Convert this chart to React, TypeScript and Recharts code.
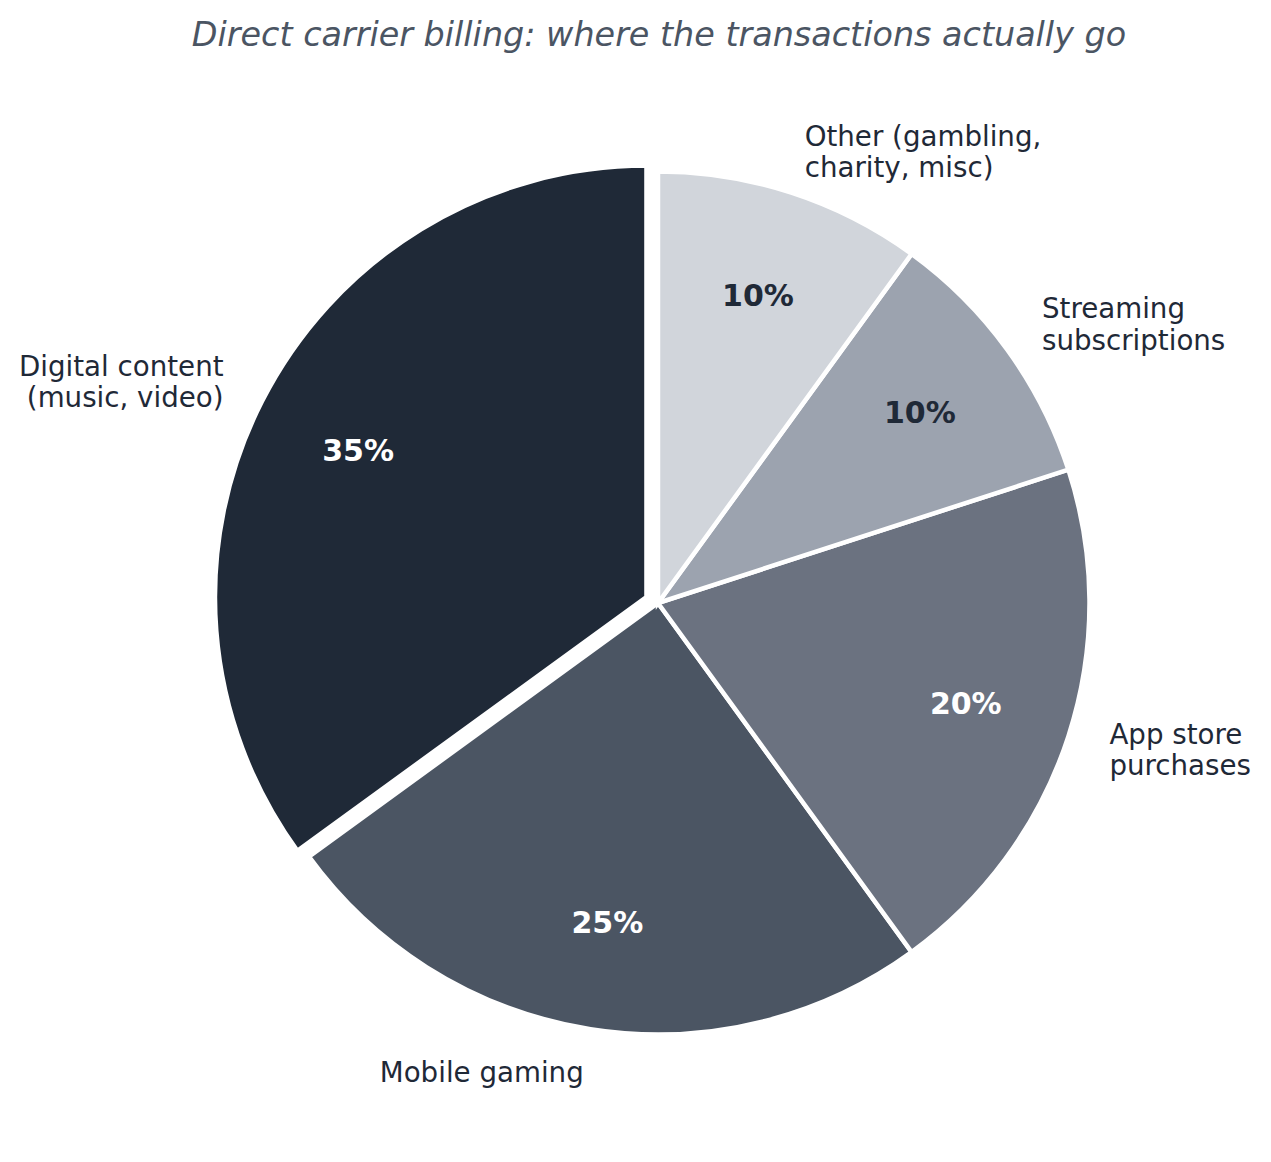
import React from 'react';
import { PieChart, Pie, Cell } from 'recharts';

const categories = [
    'Digital content\n(music, video)',
    'Mobile gaming',
    'App store\npurchases',
    'Streaming\nsubscriptions',
    'Other (gambling,\ncharity, misc)',
];
const shares = [35, 25, 20, 10, 10];
const explode = [0.03, 0, 0, 0, 0];
const sliceColors = ['#1f2937', '#4b5563', '#6b7280', '#9ca3af', '#d1d5db'];
const pctColors = ['#ffffff', '#ffffff', '#ffffff', '#1f2937', '#1f2937'];

const data = categories.map((name, i) => ({ name, value: shares[i] }));

const WIDTH = 1271;
const HEIGHT = 1162;
const CX = 658;
const CY = 603;
const R = 431.5;
const START = 90;
const RADIAN = Math.PI / 180;
const FONT = '"DejaVu Sans", sans-serif';
const total = shares.reduce((a, b) => a + b, 0);

// mid angle of a slice, counter-clockwise from 12 o'clock
const midAngleOf = (i: number) => {
    const before = shares.slice(0, i).reduce((a, b) => a + b, 0);
    return START + ((before + shares[i] / 2) / total) * 360;
};

const makeLabel = (show: (i: number) => boolean) => (props: any) => {
    const { cx, cy, midAngle, outerRadius, index } = props;
    if (!show(index)) return null;
    const cos = Math.cos(-midAngle * RADIAN);
    const sin = Math.sin(-midAngle * RADIAN);
    const px = cx + outerRadius * 0.75 * cos;
    const py = cy + outerRadius * 0.75 * sin;
    const lx = cx + outerRadius * 1.1 * cos;
    const ly = cy + outerRadius * 1.1 * sin;
    const lines = categories[index].split('\n');
    const lineH = 31.5;
    return (
        <g key={`lbl-${index}`}>
            <text
                x={px}
                y={py}
                textAnchor="middle"
                dominantBaseline="central"
                fill={pctColors[index]}
                fontFamily={FONT}
                fontWeight="bold"
                fontSize={30}
            >
                {`${shares[index]}%`}
            </text>
            <text
                x={lx}
                y={ly}
                textAnchor={lx > cx ? 'start' : 'end'}
                dominantBaseline="central"
                fill="#1f2937"
                fontFamily={FONT}
                fontSize={27.7}
            >
                {lines.map((ln, k) => (
                    <tspan key={k} x={lx} dy={k === 0 ? -((lines.length - 1) / 2) * lineH : lineH}>
                        {ln}
                    </tspan>
                ))}
            </text>
        </g>
    );
};

export default function App() {
    const exIdx = explode.findIndex((e) => e > 0);
    const exMid = midAngleOf(exIdx);
    const exCx = CX + explode[exIdx] * R * Math.cos(exMid * RADIAN);
    const exCy = CY - explode[exIdx] * R * Math.sin(exMid * RADIAN);

    return (
        <div style={{ position: 'relative', width: WIDTH, height: HEIGHT, background: '#fff' }}>
            <style>{`body{margin:0}`}</style>
            <svg width={WIDTH} height={70} style={{ position: 'absolute', left: 0, top: 0 }}>
                <text
                    x={659}
                    y={46}
                    textAnchor="middle"
                    fill="#4b5563"
                    fontFamily={FONT}
                    fontStyle="italic"
                    fontSize={33.4}
                >
                    Direct carrier billing: where the transactions actually go
                </text>
            </svg>
            <PieChart width={WIDTH} height={HEIGHT} margin={{ top: 0, right: 0, bottom: 0, left: 0 }}>
                <Pie
                    data={data}
                    dataKey="value"
                    nameKey="name"
                    cx={CX}
                    cy={CY}
                    outerRadius={R}
                    startAngle={START}
                    endAngle={START + 360}
                    stroke="#ffffff"
                    strokeWidth={4.5}
                    labelLine={false}
                    label={makeLabel((i) => explode[i] === 0)}
                    isAnimationActive={false}
                >
                    {data.map((d, i) => (
                        <Cell
                            key={d.name}
                            fill={explode[i] === 0 ? sliceColors[i] : 'transparent'}
                            stroke={explode[i] === 0 ? '#ffffff' : 'none'}
                        />
                    ))}
                </Pie>
                <Pie
                    data={data}
                    dataKey="value"
                    nameKey="name"
                    cx={exCx}
                    cy={exCy}
                    outerRadius={R}
                    startAngle={START}
                    endAngle={START + 360}
                    stroke="#ffffff"
                    strokeWidth={4.5}
                    labelLine={false}
                    label={makeLabel((i) => explode[i] > 0)}
                    isAnimationActive={false}
                >
                    {data.map((d, i) => (
                        <Cell
                            key={d.name}
                            fill={explode[i] > 0 ? sliceColors[i] : 'transparent'}
                            stroke={explode[i] > 0 ? '#ffffff' : 'none'}
                        />
                    ))}
                </Pie>
            </PieChart>
        </div>
    );
}
